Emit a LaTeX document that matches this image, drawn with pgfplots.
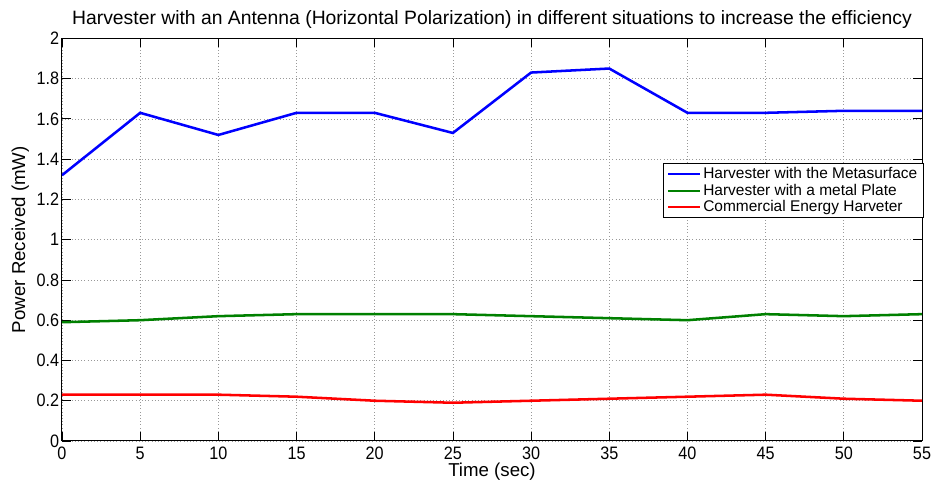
\documentclass[border=0pt]{standalone}
\usepackage{pgfplots}
\pgfplotsset{compat=1.18}
\usepackage{fontspec}
\setmainfont{Liberation Sans}
\newfontfamily\tickfont[FakeStretch=0.9]{Liberation Sans}
\definecolor{mgreen}{rgb}{0,0.5,0}
\begin{document}
\begin{tikzpicture}
\useasboundingbox (-46.5pt,-32.25pt) rectangle (654pt,330.75pt);
\begin{axis}[
  width=645pt, height=302pt, scale only axis,
  xmin=0, xmax=55, ymin=0, ymax=2,
  xtick={0,5,...,55},
  ytick={0,0.2,...,2},
  yticklabels={0,0.2,0.4,0.6,0.8,1,1.2,1.4,1.6,1.8,2},
  /pgf/number format/assume math mode=true,
  tick align=inside, tick pos=both,
  major tick length=6.5pt,
  tick style={line width=0.6pt, black},
  grid=major,
  grid style={dotted, gray!80, line width=0.5pt},
  axis line style={line width=0.75pt},
  tick label style={font=\tickfont\fontsize{13.5}{15}\selectfont},
  xticklabel style={anchor=north, inner sep=0pt, yshift=-4.5pt},
  yticklabel style={anchor=east, inner sep=0pt, xshift=-2pt},
  title={Harvester with an Antenna (Horizontal Polarization) in different situations to increase the efficiency},
  title style={at={(axis description cs:0.5,1)}, anchor=base, yshift=4pt, inner sep=0pt, font=\fontsize{14.5}{16}\selectfont},
  xlabel={Time (sec)},
  ylabel={Power Received (mW)},
  label style={font=\fontsize{14}{16}\selectfont},
  xlabel style={at={(axis description cs:0.5,0)}, anchor=base, yshift=-27pt, inner sep=0pt},
  ylabel style={at={(axis description cs:-0.043,0.5)}, anchor=base, inner sep=0pt},
  legend style={at={(axis description cs:1.002,0.69)}, anchor=north east, font=\fontsize{11.6}{13}\selectfont, draw=black, line width=0.6pt, inner xsep=3pt, inner ysep=2pt, row sep=0.5pt, nodes={inner xsep=1.5pt, inner ysep=1pt}},
  legend cell align=left,
  legend image code/.code={\draw[#1, line width=1.6pt] (0pt,0pt) -- (24pt,0pt);},
]
\addplot[blue, line width=1.9pt] coordinates {(0,1.32) (5,1.63) (10,1.52) (15,1.63) (20,1.63) (25,1.53) (30,1.83) (35,1.85) (40,1.63) (45,1.63) (50,1.64) (55,1.64)};
\addlegendentry{Harvester with the Metasurface}
\addplot[mgreen, line width=1.9pt] coordinates {(0,0.59) (5,0.60) (10,0.62) (15,0.63) (20,0.63) (25,0.63) (30,0.62) (35,0.61) (40,0.60) (45,0.63) (50,0.62) (55,0.63)};
\addlegendentry{Harvester with a metal Plate}
\addplot[red, line width=1.9pt] coordinates {(0,0.23) (5,0.23) (10,0.23) (15,0.22) (20,0.20) (25,0.19) (30,0.20) (35,0.21) (40,0.22) (45,0.23) (50,0.21) (55,0.20)};
\addlegendentry{Commercial Energy Harveter}
\end{axis}
\end{tikzpicture}
\end{document}
